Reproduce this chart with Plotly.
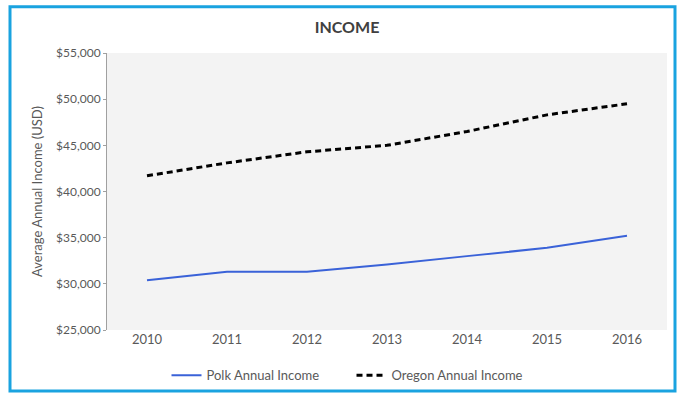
import plotly.graph_objects as go

# Annual income by year
years = ["2010", "2011", "2012", "2013", "2014", "2015", "2016"]
polk_income = [30400, 31300, 31300, 32100, 33000, 33900, 35200]
oregon_income = [41700, 43100, 44300, 45000, 46500, 48300, 49500]

y_ticks = [25000, 30000, 35000, 40000, 45000, 50000, 55000]
y_tick_text = [f"${v:,}" for v in y_ticks]

W, H = 684, 402
L, R, T, B = 107, 17, 53, 67
pw, ph = W - L - R, H - T - B

FONT = "Lato, 'Open Sans', sans-serif"
TXT = "#595959"

fig = go.Figure()
fig.add_trace(go.Scatter(
    x=years, y=polk_income, mode="lines", name="Polk Annual Income",
    line=dict(color="#3A62D8", width=2),
))
fig.add_trace(go.Scatter(
    x=years, y=oregon_income, mode="lines", name="Oregon Annual Income",
    line=dict(color="#000000", width=3, dash="6px,4px"),
))

def px_x(px):
    return (px - L) / pw

def px_y(py):
    return (H - B - py) / ph

# outer frame around the chart
fig.add_shape(
    type="rect", xref="paper", yref="paper",
    x0=px_x(10), x1=px_x(675), y0=px_y(397), y1=px_y(6),
    line=dict(color="#1AA3E0", width=3), layer="below",
)

fig.update_layout(
    width=W, height=H,
    margin=dict(l=L, r=R, t=T, b=B),
    paper_bgcolor="white",
    plot_bgcolor="#F3F3F3",
    font=dict(family=FONT, size=13, color=TXT),
    title=dict(
        text="<b>INCOME</b>", x=347 / W, xanchor="center",
        y=1 - 27 / H, yanchor="middle",
        font=dict(family=FONT, size=16, color="#404040"),
    ),
    xaxis=dict(
        type="category", range=[-0.5, 6.5], showgrid=False, zeroline=False,
        showline=False, ticks="", tickfont=dict(size=13, color=TXT),
    ),
    yaxis=dict(
        range=[25000, 55000], tickvals=y_ticks, ticktext=y_tick_text,
        showgrid=False, zeroline=False, showline=True, linecolor="#A0A0A0",
        linewidth=1, ticks="outside", ticklen=3, tickcolor="#A0A0A0",
        tickfont=dict(size=12, color=TXT),
        title=dict(text="Average Annual Income (USD)", standoff=10,
                   font=dict(size=13, color=TXT)),
    ),
    legend=dict(
        orientation="h", x=0.5 * (px_x(178) + px_x(525)), xanchor="center",
        y=px_y(381), yanchor="middle", font=dict(size=13, color=TXT),
        bgcolor="rgba(0,0,0,0)", entrywidth=140, entrywidthmode="pixels",
    ),
)

fig.write_html("out.html")
